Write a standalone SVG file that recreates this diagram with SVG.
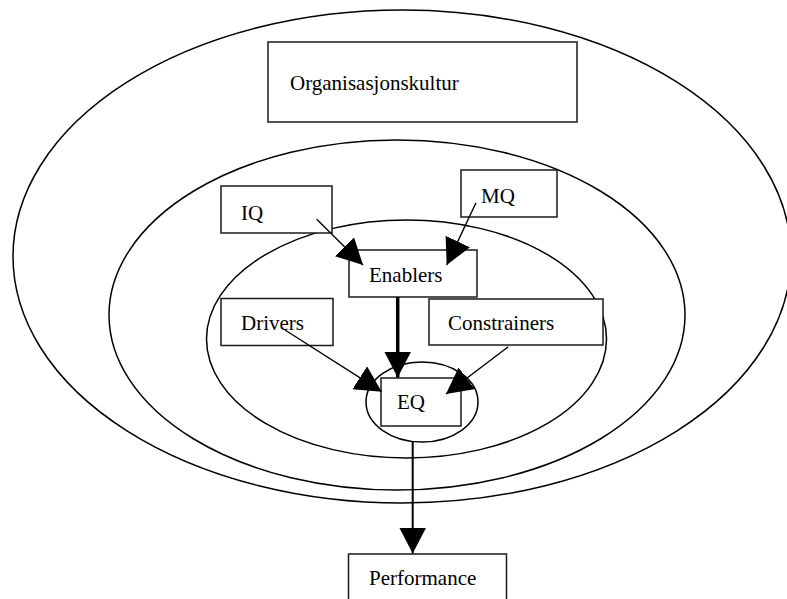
<svg xmlns="http://www.w3.org/2000/svg" width="787" height="599" viewBox="0 0 787 599">
<style>
.ell{fill:#fff;stroke:#000;stroke-width:1.5}
.box{fill:#fff;stroke:#1a1a1a;stroke-width:1.5}
.lbl{font-family:"Liberation Serif","Times New Roman",serif;font-size:21px;fill:#000}
.con{stroke:#000;fill:none}
</style>
<defs>
<marker id="ah" markerUnits="userSpaceOnUse" markerWidth="27" markerHeight="27" refX="26" refY="13.5" orient="auto" viewBox="0 0 27 27">
<path d="M0,0 L26,13.5 L0,27 z" fill="#000"/>
</marker>
</defs>
<rect width="787" height="599" fill="#fff"/>
<g id="rings">
<ellipse id="ring-outer" class="ell" cx="402" cy="256.5" rx="389" ry="246.5"/>
<ellipse id="ring-middle" class="ell" cx="397" cy="315" rx="288" ry="175"/>
<ellipse id="ring-inner" class="ell" cx="406.5" cy="339" rx="200" ry="119"/>
<ellipse id="ring-eq" class="ell" cx="422" cy="402" rx="56" ry="40"/>
</g>
<g id="node-org"><rect class="box" x="268" y="42" width="309" height="80"/><text class="lbl" x="290" y="90">Organisasjonskultur</text></g>
<g id="node-iq"><rect class="box" x="221" y="186" width="111" height="47"/><text class="lbl" x="241" y="220">IQ</text></g>
<g id="node-mq"><rect class="box" x="461" y="170" width="96" height="47"/><text class="lbl" x="481" y="203">MQ</text></g>
<g id="node-enablers"><rect class="box" x="349" y="250" width="128" height="47"/><text class="lbl" x="369" y="282">Enablers</text></g>
<g id="node-drivers"><rect class="box" x="221" y="298.5" width="112" height="47"/><text class="lbl" x="241" y="330">Drivers</text></g>
<g id="node-constrainers"><rect class="box" x="429" y="299" width="174" height="46"/><text class="lbl" x="448" y="330">Constrainers</text></g>
<g id="node-eq"><rect class="box" x="381" y="378" width="80" height="48"/><text class="lbl" x="397" y="409">EQ</text></g>
<g id="node-performance"><rect class="box" x="348.5" y="554" width="158" height="60"/><text class="lbl" x="369" y="585">Performance</text></g>
<g id="connectors">
<line class="con" x1="316.7" y1="219.3" x2="363" y2="265" stroke-width="1.4" marker-end="url(#ah)"/>
<line class="con" x1="476" y1="202.7" x2="446.7" y2="265" stroke-width="1.4" marker-end="url(#ah)"/>
<line class="con" x1="397.7" y1="297" x2="397.7" y2="377.5" stroke-width="3.5" marker-end="url(#ah)"/>
<line class="con" x1="285" y1="330" x2="381.7" y2="391.7" stroke-width="1.4" marker-end="url(#ah)"/>
<line class="con" x1="508.3" y1="346.7" x2="446" y2="394" stroke-width="1.4" marker-end="url(#ah)"/>
<line class="con" x1="412.7" y1="442" x2="412.7" y2="553.5" stroke-width="2" marker-end="url(#ah)"/>
</g>
</svg>
